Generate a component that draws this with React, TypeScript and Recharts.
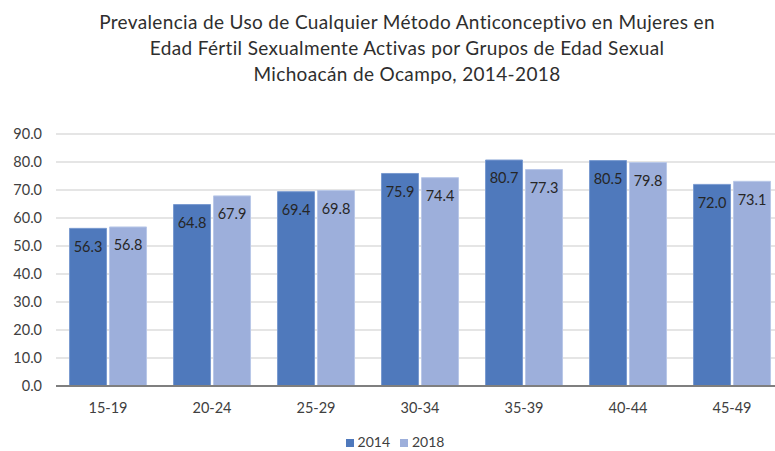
import React from 'react'
import {
  BarChart,
  Bar,
  XAxis,
  YAxis,
  CartesianGrid,
  Legend,
  LabelList
} from 'recharts'

const groups = ['15-19', '20-24', '25-29', '30-34', '35-39', '40-44', '45-49']
const values2014 = [56.3, 64.8, 69.4, 75.9, 80.7, 80.5, 72.0]
const values2018 = [56.8, 67.9, 69.8, 74.4, 77.3, 79.8, 73.1]
const yTicks = [0, 10, 20, 30, 40, 50, 60, 70, 80, 90]

const titleLines = [
  'Prevalencia de Uso de Cualquier Método Anticonceptivo en Mujeres en',
  'Edad Fértil Sexualmente Activas por Grupos de Edad Sexual',
  'Michoacán de Ocampo, 2014-2018'
]

const FONT = 'Lato, "Open Sans", sans-serif'

const App: React.FC = () => {
  // one row per age group for Recharts
  const chartData = groups.map((g, i) => ({
    group: g,
    y2014: values2014[i],
    y2018: values2018[i]
  }))

  const fmt = (v: number) => v.toFixed(1)

  return (
    <div
      style={{
        position: 'absolute',
        left: 0,
        top: 0,
        width: 775,
        height: 451,
        overflow: 'hidden',
        background: '#fff',
        fontFamily: FONT
      }}
    >
      <div
        style={{
          position: 'absolute',
          top: 9,
          left: 0,
          width: 814,
          textAlign: 'center',
          fontSize: 19,
          lineHeight: '26px',
          color: '#2e2e2e',
          fontWeight: 400,
          letterSpacing: 0.35
        }}
      >
        {titleLines.map((t) => (
          <div key={t}>{t}</div>
        ))}
      </div>
      <BarChart
        width={800}
        height={451}
        data={chartData}
        margin={{ top: 134, right: 16, left: 0, bottom: 0 }}
        barCategoryGap="13%"
        barGap={3}
      >
        <CartesianGrid vertical={false} stroke="#dcdcdc" strokeWidth={1.5} />
        <XAxis
          dataKey="group"
          tickLine={false}
          axisLine={{ stroke: '#7f7f7f', strokeWidth: 2 }}
          tickSize={0}
          tickMargin={17}
          height={40}
          tick={{ fill: '#404040', fontSize: 14.5, fontFamily: FONT }}
        />
        <YAxis
          domain={[0, 90]}
          ticks={yTicks}
          tickFormatter={fmt}
          tickLine={false}
          axisLine={false}
          tickSize={0}
          tickMargin={14}
          width={56}
          tick={{ fill: '#404040', fontSize: 14.5, fontFamily: FONT }}
        />
        <Legend
          verticalAlign="bottom"
          height={25}
          iconType="square"
          iconSize={8}
          wrapperStyle={{ left: 8, bottom: -7, fontSize: 14, fontFamily: FONT }}
          formatter={(v: string) => <span style={{ color: '#404040' }}>{v}</span>}
        />
        <Bar
          dataKey="y2014"
          name="2014"
          fill="#4f79bc"
          stroke="#7a9bd0"
          strokeWidth={1}
          isAnimationActive={false}
        >
          <LabelList
            dataKey="y2014"
            position="insideTop"
            offset={13}
            formatter={(v: number) => fmt(v)}
            style={{ fill: '#262626', fontSize: 14.5, fontFamily: FONT }}
          />
        </Bar>
        <Bar
          dataKey="y2018"
          name="2018"
          fill="#9dafdb"
          stroke="#b9c8e8"
          strokeWidth={1}
          isAnimationActive={false}
        >
          <LabelList
            dataKey="y2018"
            position="insideTop"
            offset={13}
            formatter={(v: number) => fmt(v)}
            style={{ fill: '#262626', fontSize: 14.5, fontFamily: FONT }}
          />
        </Bar>
      </BarChart>
    </div>
  )
}

export default App
